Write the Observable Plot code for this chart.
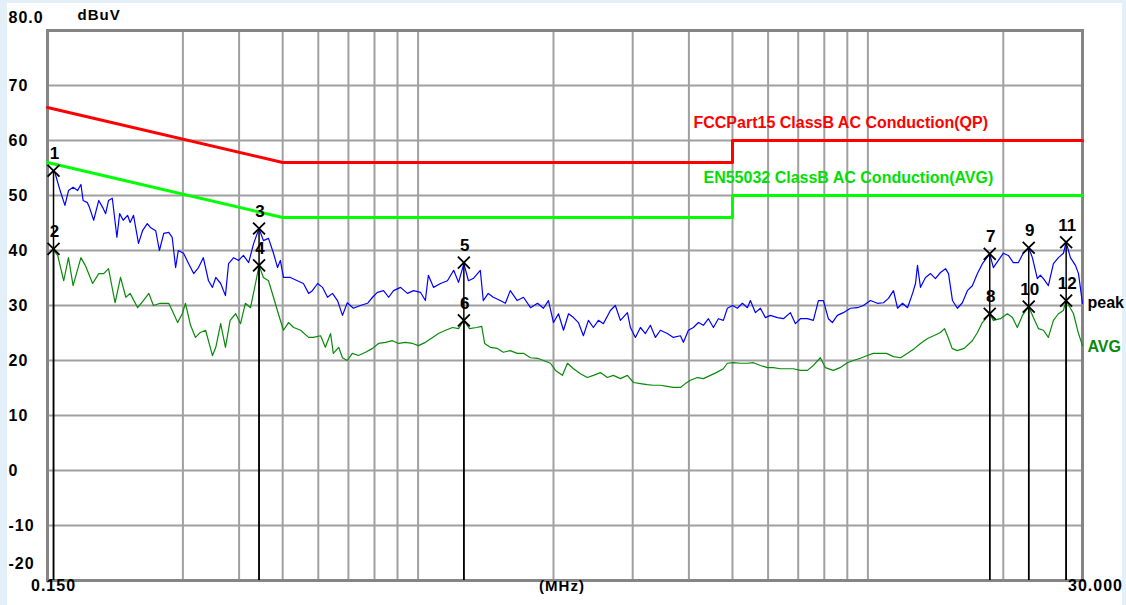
<!DOCTYPE html>
<html><head><meta charset="utf-8">
<script src="https://cdn.jsdelivr.net/npm/d3@7"></script>
<script src="https://cdn.jsdelivr.net/npm/@observablehq/plot@0.6"></script>
<style>
html,body{margin:0;padding:0;width:1126px;height:605px;overflow:hidden;background:#e3eff9;}
#panel{position:absolute;left:7px;top:3px;width:1115px;height:602px;background:#fff;}
#chart{position:absolute;left:0;top:0;}
#chart svg{background:transparent;}
#chart text{font-family:"Liberation Sans",Arial,sans-serif;font-weight:bold;}
#chart .tick text{letter-spacing:1px;}
</style></head><body><div id="panel"></div><div id="chart"></div>
<script>
// Measured traces (MHz, dBuV)
const peakFreq = [0.154,0.156,0.160,0.164,0.167,0.171,0.175,0.178,0.180,0.184,0.186,0.190,0.195,0.199,0.202,0.205,0.209,0.214,0.217,0.221,0.226,0.229,0.233,0.239,0.244,0.250,0.254,0.261,0.266,0.272,0.279,0.284,0.289,0.293,0.301,0.309,0.317,0.325,0.333,0.342,0.349,0.355,0.364,0.373,0.379,0.389,0.399,0.409,0.420,0.431,0.443,0.453,0.465,0.477,0.487,0.494,0.502,0.520,0.539,0.556,0.571,0.582,0.598,0.613,0.629,0.645,0.662,0.679,0.696,0.718,0.744,0.772,0.792,0.812,0.838,0.860,0.882,0.914,0.947,0.977,1.012,1.038,1.054,1.082,1.122,1.162,1.200,1.230,1.264,1.294,1.326,1.375,1.396,1.432,1.470,1.523,1.563,1.603,1.661,1.715,1.778,1.843,1.900,1.949,2.000,2.052,2.105,2.160,2.216,2.272,2.331,2.391,2.453,2.517,2.582,2.676,2.745,2.817,2.920,2.965,3.042,3.121,3.201,3.284,3.370,3.457,3.582,3.694,3.830,3.889,3.990,4.093,4.200,4.308,4.420,4.535,4.651,4.772,4.871,5.000,5.127,5.260,5.397,5.480,5.623,5.768,5.917,6.071,6.293,6.490,6.726,6.901,7.079,7.337,7.565,7.762,7.963,8.168,8.337,8.552,8.820,9.143,9.476,9.772,10.13,10.50,10.83,11.11,11.40,11.64,11.94,12.25,12.57,12.76,12.89,13.09,13.43,13.78,14.13,14.50,14.88,15.11,15.42,15.81,16.22,16.64,17.07,17.52,17.97,18.66,19.01,19.50,20.00,20.52,21.05,21.61,22.17,22.78,23.21,23.81,24.18,24.56,25.19,25.85,26.52,27.21,27.59,28.20,28.94,29.39,30.00];
const peakLevel = [54.6,54.0,50.9,48.2,50.9,51.5,50.9,52.0,49.1,48.7,47.8,45.5,49.1,47.8,46.7,49.1,49.5,42.4,46.7,45.5,46.4,45.1,46.4,41.3,43.6,44.9,44.2,43.6,40.0,43.1,43.3,42.4,36.9,40.0,39.5,37.6,35.8,36.9,38.7,34.5,33.3,35.1,34.0,31.8,37.6,38.7,38.2,39.1,37.8,41.3,44.0,41.8,42.2,39.5,36.9,38.2,35.1,35.1,34.5,34.0,32.2,32.7,34.0,33.3,31.5,32.2,30.9,28.2,30.5,29.5,30.0,30.4,31.5,32.4,32.7,31.5,32.7,33.3,32.2,32.7,32.4,30.9,35.5,33.3,34.0,34.5,36.4,34.2,37.6,34.5,34.9,36.4,30.9,32.2,31.5,30.9,30.4,32.7,30.9,31.5,29.6,30.4,29.5,30.9,26.9,28.5,25.5,28.5,27.8,26.9,24.5,27.3,26.0,27.3,26.7,29.1,30.0,27.3,28.7,26.0,24.2,26.0,24.9,26.4,24.2,25.5,24.9,24.2,24.5,23.3,25.5,26.0,26.9,26.4,27.6,26.0,27.6,27.3,29.5,30.0,29.5,30.4,29.6,30.9,28.7,29.5,27.8,28.2,27.8,27.6,28.7,26.7,27.6,27.6,27.3,30.9,30.9,27.6,26.9,28.2,28.7,29.5,29.6,30.0,30.9,30.4,30.5,31.3,32.7,29.5,30.4,29.6,32.2,34.0,37.3,33.3,35.1,35.8,34.9,36.0,36.7,35.8,30.9,29.5,30.5,32.7,33.6,35.8,37.6,39.4,36.9,38.2,39.5,39.1,37.8,37.8,39.6,40.5,38.7,34.9,35.5,34.9,33.6,37.6,38.7,39.5,41.5,38.7,37.3,35.8,30.4];
const avgFreq = [0.154,0.158,0.163,0.167,0.171,0.178,0.182,0.189,0.195,0.200,0.205,0.212,0.218,0.224,0.229,0.238,0.245,0.252,0.258,0.267,0.279,0.284,0.292,0.299,0.304,0.312,0.320,0.328,0.337,0.349,0.355,0.364,0.373,0.382,0.393,0.403,0.413,0.424,0.435,0.443,0.453,0.465,0.477,0.489,0.502,0.515,0.529,0.548,0.571,0.585,0.607,0.622,0.639,0.648,0.666,0.679,0.696,0.714,0.737,0.764,0.792,0.817,0.846,0.877,0.905,0.937,0.972,1.002,1.038,1.077,1.110,1.151,1.193,1.230,1.264,1.301,1.349,1.385,1.406,1.447,1.500,1.547,1.603,1.661,1.715,1.778,1.843,1.900,1.969,2.021,2.094,2.148,2.216,2.295,2.378,2.453,2.543,2.635,2.717,2.817,2.920,3.011,3.121,3.232,3.332,3.457,3.582,3.694,3.830,3.928,4.031,4.178,4.308,4.465,4.602,4.772,4.871,5.023,5.206,5.397,5.567,5.768,5.978,6.163,6.389,6.624,6.829,7.079,7.337,7.565,7.840,8.045,8.375,8.671,9.000,9.286,9.620,9.974,10.28,10.66,11.00,11.40,11.82,12.25,12.70,13.09,13.57,14.00,14.50,14.80,15.11,15.39,15.79,16.37,17.07,17.52,17.97,18.66,19.01,19.70,20.42,20.96,21.49,22.06,22.78,23.33,23.94,24.56,25.19,25.85,26.52,27.21,27.59,28.65,29.39,30.00];
const avgLevel = [40.3,39.1,34.5,38.7,33.6,38.7,37.3,34.0,35.8,35.8,36.7,30.5,35.1,31.5,32.2,29.6,30.9,32.2,30.0,30.4,30.4,29.1,26.9,28.5,30.4,26.4,24.2,25.1,25.5,20.9,22.4,26.7,22.4,27.3,28.5,26.7,30.4,29.6,34.0,37.3,35.1,34.5,31.5,28.5,25.5,26.9,26.0,25.5,24.2,24.2,24.5,22.4,24.9,21.3,22.4,20.5,20.0,21.3,20.9,21.5,22.2,23.1,23.3,23.6,23.1,23.3,23.1,22.7,23.3,24.2,24.9,25.5,26.0,25.8,27.3,25.8,26.0,26.2,23.1,22.4,22.2,21.5,21.8,21.3,21.3,20.5,20.4,20.0,19.5,18.2,17.3,19.5,18.5,17.6,16.9,17.3,17.8,16.9,17.3,16.7,17.3,16.0,15.8,15.6,15.5,15.5,15.3,15.1,15.1,15.8,16.4,16.9,16.7,17.3,17.8,18.5,19.5,19.6,19.5,19.5,19.6,19.1,18.7,18.7,18.5,18.5,18.5,18.2,18.2,19.1,20.5,18.7,18.2,18.7,19.6,20.0,20.4,20.9,21.3,21.3,21.3,20.7,20.5,21.3,22.2,23.1,24.0,24.5,25.1,25.8,24.0,22.2,21.8,22.2,23.6,25.1,26.9,28.5,27.3,27.6,28.5,27.8,26.0,28.2,29.8,27.8,25.8,25.5,24.2,27.3,28.5,29.1,30.9,28.5,24.9,22.7];
// Limit lines
const qpLimitFreq = [0.15, 0.5, 5, 5, 30];
const qpLimitLevel = [66, 56, 56, 60, 60];
const avLimitFreq = [0.15, 0.5, 5, 5, 30];
const avLimitLevel = [56, 46, 46, 50, 50];
const qpLimitName = "FCCPart15 ClassB AC Conduction(QP)";
const avLimitName = "EN55032 ClassB AC Conduction(AVG)";
// Markers
const markerNo = [1,2,3,4,5,6,7,8,9,10,11,12];
const markerFreq = [0.1547,0.1547,0.443,0.443,1.264,1.264,18.66,18.66,22.78,22.78,27.59,27.59];
const markerLevel = [54.5,40.3,44.0,37.3,37.8,27.3,39.4,28.5,40.5,29.8,41.5,30.9];
// Grid / ticks
const xGrid = [0.3,0.4,0.5,0.6,0.7,0.8,0.9,1,2,3,4,5,6,7,8,9,10,20];
const yTicks = [70,60,50,40,30,20,10,0,-10];
const yMin = -20, yMax = 80, xMin = 0.15, xMax = 30;
const xTickLabels = ["0.150","30.000"];

const peak = peakFreq.map((f,i)=>({f, v: peakLevel[i]}));
const avg = avgFreq.map((f,i)=>({f, v: avgLevel[i]}));
const qp = qpLimitFreq.map((f,i)=>({f, v: qpLimitLevel[i]}));
const av = avLimitFreq.map((f,i)=>({f, v: avLimitLevel[i]}));
const markers = markerNo.map((n,i)=>({n, f: markerFreq[i], v: markerLevel[i]}));

const chart = Plot.plot({
  width: 1126, height: 605,
  marginLeft: 47, marginRight: 44, marginTop: 30, marginBottom: 25,
  x: {type: "log", domain: [xMin, xMax], axis: null},
  y: {domain: [yMin, yMax], axis: null},
  style: {fontFamily: "Liberation Sans, Arial, sans-serif", fontSize: "15px", background: "transparent", overflow: "visible"},
  marks: [
    Plot.ruleX(xGrid, {stroke: "#a0a0a0", strokeWidth: 2}),
    Plot.ruleY(yTicks, {stroke: "#a0a0a0", strokeWidth: 2}),
    Plot.frame({stroke: "#858585", strokeWidth: 3}),
    Plot.line(qp, {x: "f", y: "v", stroke: "#ff0000", strokeWidth: 3}),
    Plot.line(av, {x: "f", y: "v", stroke: "#00ff00", strokeWidth: 3}),
    Plot.line(peak, {x: "f", y: "v", stroke: "#0000ff", strokeWidth: 1.2}),
    Plot.line(avg, {x: "f", y: "v", stroke: "#0a8a0a", strokeWidth: 1.2}),
    Plot.ruleX(markers, {x: "f", y1: yMin, y2: "v", stroke: "#000", strokeWidth: 1.5}),
    Plot.dot(markers, {x: "f", y: "v", symbol: "times", r: 5.5, stroke: "#000", strokeWidth: 1.8}),
    Plot.text(markers, {x: "f", y: "v", text: d => String(d.n), dy: -17, dx: 1, fill: "#000", fontSize: 17, fontWeight: "bold"}),
    // limit names anchored at the 5 MHz step
    Plot.text([qp[3]], {x: "f", y: "v", text: () => qpLimitName, textAnchor: "start", dx: -39, dy: -18, fill: "#ff0000", fontSize: 16, fontWeight: "bold"}),
    Plot.text([av[3]], {x: "f", y: "v", text: () => avLimitName, textAnchor: "start", dx: -29, dy: -18, fill: "#00e000", fontSize: 16, fontWeight: "bold"}),
    // trace names at trace ends
    Plot.text([peak[peak.length-1]], {x: "f", y: "v", text: () => "peak", textAnchor: "start", dx: 5, dy: 0, fill: "#000", fontSize: 16, fontWeight: "bold"}),
    Plot.text([avg[avg.length-1]], {x: "f", y: "v", text: () => "AVG", textAnchor: "start", dx: 5, dy: 1, fill: "#0a8a0a", fontSize: 16, fontWeight: "bold"}),
    // y tick labels
    Plot.text(yTicks, {y: d => d, text: d => String(d), frameAnchor: "left", textAnchor: "start", dx: -39, fill: "#000", fontSize: 16, fontWeight: "bold", className: "tick"}),
    Plot.text([yMax], {y: d => d, text: () => "80.0", frameAnchor: "left", textAnchor: "start", dx: -39, dy: -13, fill: "#000", fontSize: 16, fontWeight: "bold", className: "tick"}),
    Plot.text([yMin], {y: d => d, text: d => String(d), frameAnchor: "left", textAnchor: "start", dx: -39, dy: -17, fill: "#000", fontSize: 16, fontWeight: "bold", className: "tick"}),
    Plot.text([yMax], {y: d => d, text: () => "dBuV", frameAnchor: "left", textAnchor: "start", dx: 30, dy: -15, fill: "#000", fontSize: 15, fontWeight: "bold", className: "tick"}),
    // x tick labels
    Plot.text([xMin], {x: d => d, text: () => xTickLabels[0], frameAnchor: "bottom", dy: 10, dx: 6, fill: "#000", fontSize: 16, fontWeight: "bold", className: "tick"}),
    Plot.text([xMax], {x: d => d, text: () => xTickLabels[1], frameAnchor: "bottom", dy: 10, dx: 13, fill: "#000", fontSize: 16, fontWeight: "bold", className: "tick"}),
    Plot.text(["(MHz)"], {text: d => d, frameAnchor: "bottom", dy: 10, dx: -3, fill: "#000", fontSize: 15, fontWeight: "bold", className: "tick"})
  ]
});
document.getElementById("chart").appendChild(chart);
</script>
</body></html>
